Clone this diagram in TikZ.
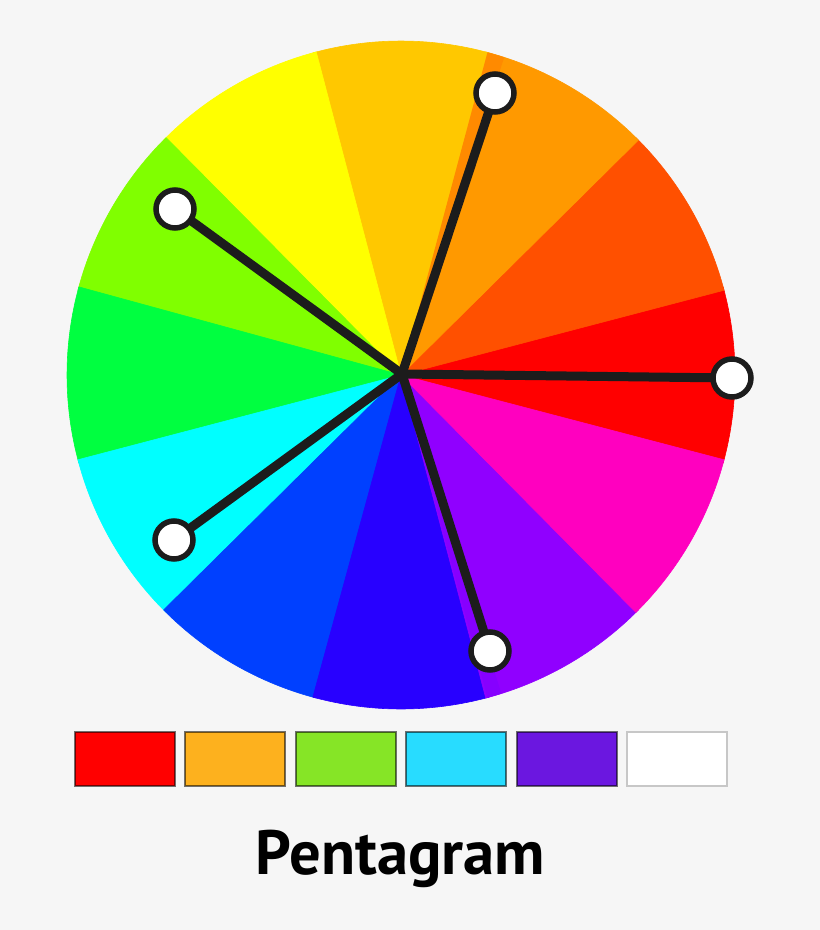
\documentclass[tikz,border=0pt]{standalone}
\usepackage{graphicx}
\usepackage{fontspec}
\setmainfont{PT Sans}
\definecolor{bg}{HTML}{F6F6F6}
\definecolor{cA}{HTML}{FF0000}
\definecolor{cB}{HTML}{FF5000}
\definecolor{cC}{HTML}{FF9900}
\definecolor{cD}{HTML}{FFC800}
\definecolor{cE}{HTML}{FFFF00}
\definecolor{cF}{HTML}{80FF00}
\definecolor{cG}{HTML}{00FF40}
\definecolor{cH}{HTML}{00FFFF}
\definecolor{cI}{HTML}{0040FF}
\definecolor{cJ}{HTML}{2800FF}
\definecolor{cK}{HTML}{9000FF}
\definecolor{cL}{HTML}{FF00BF}
\definecolor{sliverC}{HTML}{FF8A00}
\definecolor{sliverK}{HTML}{8600FF}
\definecolor{dark}{HTML}{1C1C1C}
\definecolor{swA}{HTML}{FF0000}
\definecolor{swB}{HTML}{FDB11E}
\definecolor{swC}{HTML}{86E526}
\definecolor{swD}{HTML}{28DCFF}
\definecolor{swE}{HTML}{6B17E0}
\definecolor{swF}{HTML}{FFFFFF}
\begin{document}
\begin{tikzpicture}[x=1pt,y=-1pt,
  spoke/.style={draw=dark,line width=9pt,line cap=round},
  handle/.style={circle,draw=dark,fill=white,line width=5.5pt,minimum size=38pt,inner sep=0pt,outer sep=0pt},
  swatch/.style={rectangle,minimum width=100pt,minimum height=54pt,inner sep=0pt,line width=1.5pt,draw=black,draw opacity=0.55},
]
\useasboundingbox[fill=bg] (0,0) rectangle (820,930);
\coordinate (C) at (401,375);
\def\R{334}
\foreach \a/\col in {0/cA,30/cB,60/cC,90/cD,120/cE,150/cF,180/cG,210/cH,240/cI,270/cJ,300/cK,330/cL}{
  \fill[\col,draw=\col,line width=0.6pt,line join=round] (C) -- ++({15.3-\a}:\R) arc[start angle={15.3-\a}, end angle={-15.3-\a}, radius=\R] -- cycle;
}
\fill[sliverC] (C) -- ++(-72:\R) arc[start angle=-72, end angle=-75, radius=\R] -- cycle;
\fill[sliverK] (C) -- ++(-285:\R) arc[start angle=-285, end angle=-287.5, radius=\R] -- cycle;
\coordinate (hub) at (402,374);
\coordinate (p1) at (732,378);
\coordinate (p2) at (495,93);
\coordinate (p3) at (175,209);
\coordinate (p4) at (174,540);
\coordinate (p5) at (490,651);
\foreach \p in {p1,p2,p3,p4,p5}{\draw[spoke] (hub) -- (\p);}
\foreach \p in {p1,p2,p3,p4,p5}{\node[handle] (h\p) at (\p) {};}
\node[swatch,fill=swA] (s1) at (125,759) {};
\node[swatch,fill=swB] (s2) at (235,759) {};
\node[swatch,fill=swC] (s3) at (346,759) {};
\node[swatch,fill=swD] (s4) at (456,759) {};
\node[swatch,fill=swE] (s5) at (567,759) {};
\node[swatch,fill=swF,draw=black!22,draw opacity=1] (s6) at (677,759) {};
\node[anchor=base,inner sep=0pt] (title) at (400.5,874) {\resizebox{289pt}{!}{\bfseries Pentagram}};
\end{tikzpicture}
\end{document}
